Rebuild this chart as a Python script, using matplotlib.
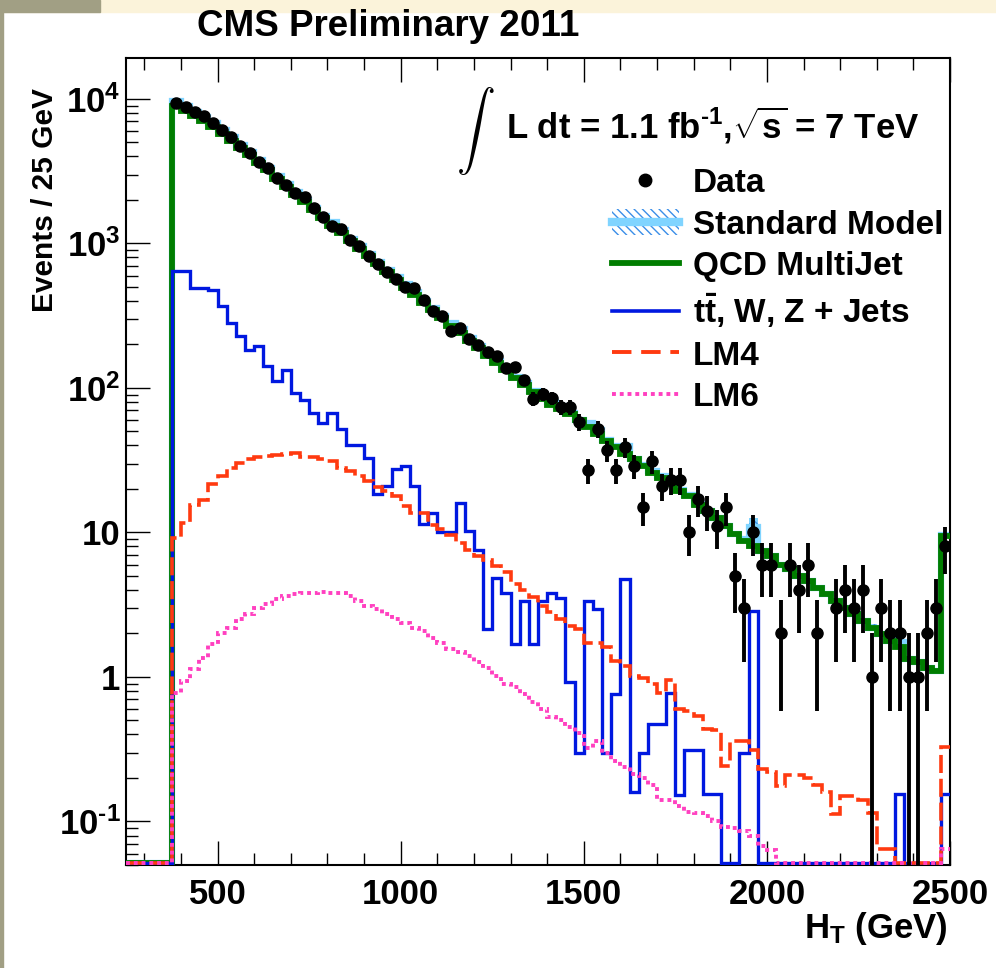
import numpy as np
import matplotlib
matplotlib.use("Agg")
import matplotlib.pyplot as plt
from matplotlib.lines import Line2D
from matplotlib.patches import Patch, Rectangle
from matplotlib.ticker import MultipleLocator, LogLocator, NullFormatter

plt.rcParams["font.family"] = ["Liberation Sans", "DejaVu Sans"]
plt.rcParams["font.weight"] = "bold"
plt.rcParams["mathtext.fontset"] = "custom"
plt.rcParams["mathtext.rm"] = "Liberation Sans:bold"
plt.rcParams["mathtext.bf"] = "Liberation Sans:bold"
plt.rcParams["mathtext.it"] = "Liberation Sans:bold"
plt.rcParams["mathtext.default"] = "bf"
plt.rcParams["hatch.linewidth"] = 1.0

# H_T binning: 25 GeV bins from 250 to 2500 GeV, first 5 bins (250-375) empty
ht_edges = np.arange(250, 2525, 25)
n_empty = 5

# Data counts per bin starting at 375 GeV
data_counts = [
    9430, 8850, 8170, 7630, 6800, 6110, 5490, 4750, 4250, 3690,
    3320, 2860, 2530, 2250, 2110, 1760, 1520, 1330, 1260, 1050,
    960, 813, 722, 637, 569, 500, 492, 408, 339, 317,
    246, 259, 219, 197, 176, 167, 137, 140, 113, 84,
    91, 85, 74, 74, 58, 27, 52, 37, 27, 39,
    29, 15, 31, 21, 23, 23, 10, 17, 14, 11,
    15, 5, 3, 10, 6, 6, 2, 6, 4, 6,
    2, 0, 3, 4, 3, 4, 1, 3, 2, 2,
    1, 1, 2, 3, 8,
]

# QCD multijet prediction
qcd = [
    9000, 8300, 7600, 7000, 6350, 5750, 5150, 4600, 4080, 3600,
    3200, 2800, 2460, 2180, 1930, 1700, 1500, 1330, 1180, 1040,
    920, 815, 720, 635, 560, 495, 438, 390, 345, 305,
    270, 240, 213, 188, 167, 149, 133, 118, 105, 94,
    84, 76, 71, 66, 60, 54, 48, 43, 39, 35,
    32, 29, 26, 24, 21.5, 19.5, 17.8, 15.5, 14.0, 12.5,
    11.1, 9.7, 8.7, 8.05, 7.4, 6.9, 6.0, 5.55, 5.0, 4.6,
    4.15, 3.73, 3.36, 3.02, 2.72, 2.44, 2.2, 1.98, 1.78, 1.6,
    1.33, 1.26, 1.16, 1.1, 9.45,
]

# ttbar, W, Z + jets
ewk = [
    641, 641, 492, 492, 474, 367, 282, 228, 184, 194,
    141, 111, 134, 92, 83, 67, 57, 67, 52, 40,
    40, 33, 18.4, 21, 27.3, 29, 21, 11.4, 13.7, 10,
    10, 16.1, 10.2, 7.6, 2.14, 4.87, 3.84, 1.69, 3.36, 1.69,
    3.36, 3.8, 3.54, 0.92, 0.30, 3.36, 2.94, 0.30, 0.76, 4.74,
    0.159, 0.30, 0.47, 0.47, 0.77, 0.153, 0.31, 0.31, 0.155, 0.155,
    0, 0, 0.30, 2.86, 0, 0, 0, 0, 0, 0,
    0, 0, 0, 0, 0, 0, 0, 0, 0, 0.155,
    0, 0, 0, 0, 0.155,
]

lm4 = [
    9.2, 11.6, 15.6, 16.9, 21.5, 24.5, 28, 30.3, 32, 33.2,
    33.7, 34.6, 35, 35.3, 33.2, 33.2, 32, 31.3, 28, 26.5,
    24.5, 22.6, 20.6, 19.3, 17.8, 15.2, 13.7, 13.6, 11.2, 10.6,
    9.55, 8.5, 7.6, 6.9, 6.4, 5.9, 5.3, 4.4, 4.0, 3.6,
    3.1, 2.8, 2.5, 2.25, 2.14, 1.73, 1.73, 1.6, 1.29, 1.19,
    1.02, 0.985, 0.89, 0.78, 0.95, 0.6, 0.58, 0.54, 0.435, 0.43,
    0.243, 0.36, 0.36, 0.31, 0.23, 0.22, 0.177, 0.21, 0.21, 0.2,
    0.18, 0.159, 0.113, 0.15, 0.15, 0.14, 0.115, 0.065, 0.065, 0,
    0, 0, 0, 0, 0.33,
]

lm6 = [
    0.78, 0.94, 1.13, 1.36, 1.69, 2.03, 2.2, 2.51, 2.72, 3.02,
    3.18, 3.45, 3.64, 3.73, 3.8, 3.84, 3.87, 3.84, 3.8, 3.64,
    3.36, 3.1, 2.94, 2.72, 2.51, 2.38, 2.2, 2.08, 1.87, 1.73,
    1.56, 1.48, 1.4, 1.26, 1.16, 1.02, 0.89, 0.85, 0.76, 0.67,
    0.6, 0.525, 0.5, 0.45, 0.41, 0.325, 0.36, 0.30, 0.263, 0.237,
    0.213, 0.2, 0.18, 0.14, 0.14, 0.128, 0.117, 0.115, 0.11, 0.10,
    0.091, 0.09, 0.086, 0.08, 0.068, 0.063, 0, 0, 0, 0,
    0, 0, 0, 0, 0, 0, 0, 0, 0, 0,
    0, 0, 0, 0, 0.065,
]

# relative uncertainty on the Standard Model sum
sm_rel_unc = [
    0.03, 0.03, 0.03, 0.03, 0.03, 0.03, 0.03, 0.03, 0.03, 0.03,
    0.03, 0.03, 0.03, 0.03, 0.03, 0.03, 0.03, 0.03, 0.03, 0.03,
    0.03, 0.03, 0.03, 0.03, 0.03, 0.03, 0.03, 0.03, 0.03, 0.03,
    0.03, 0.03, 0.03, 0.03, 0.03, 0.03, 0.03, 0.03, 0.03, 0.03,
    0.03, 0.03, 0.03, 0.03, 0.03, 0.03, 0.03, 0.03, 0.03, 0.03,
    0.03, 0.03, 0.03, 0.03, 0.03, 0.03, 0.03, 0.03, 0.03, 0.03,
    0.03, 0.03, 0.03, 0.16, 0.03, 0.03, 0.03, 0.03, 0.03, 0.03,
    0.03, 0.03, 0.03, 0.03, 0.03, 0.03, 0.05, 0.03, 0.03, 0.10,
    0.03, 0.03, 0.03, 0.03, 0.04,
]

c_green = "#007d00"
c_blue = "#0018e0"
c_red = "#ff3a10"
c_pink = "#ff40c0"
c_sm = "#80d4ff"
c_hatch = "#3a8ee8"

y_min, y_max = 0.05, 1.92e4
floor = 0.052


def full(vals):
    return np.concatenate([np.zeros(n_empty), np.asarray(vals, dtype=float)])


def drawable(vals):
    v = full(vals)
    return np.where(v > 0, v, floor)


fig = plt.figure(figsize=(9.96, 9.68), dpi=100)
fig.patch.set_facecolor("white")
# slide background bits
fig.patches.append(Rectangle((0, 1 - 12 / 968), 1, 12 / 968, transform=fig.transFigure,
                             color="#fbf3da", zorder=0))
fig.patches.append(Rectangle((0, 1 - 12 / 968), 100 / 996, 12 / 968, transform=fig.transFigure,
                             color="#a19f84", zorder=0))
fig.patches.append(Rectangle((0, 0), 3 / 996, 1, transform=fig.transFigure,
                             color="#a19f84", zorder=0))

ax = fig.add_axes([126 / 996, 103 / 968, 824 / 996, 807 / 968])
ax.set_yscale("log")

sm = full(qcd) + full(ewk)
unc = full(sm_rel_unc)
ax.fill_between(ht_edges, np.append(sm * (1 - unc), sm[-1]), np.append(sm * (1 + unc), sm[-1]),
                step="post", facecolor=c_sm, edgecolor=c_hatch, hatch="\\\\\\\\", lw=0, zorder=1)
ax.stairs(np.where(sm > 0, sm, floor), ht_edges, baseline=None, color=c_sm, lw=4.5, zorder=2)
ax.stairs(drawable(qcd), ht_edges, baseline=None, color=c_green, lw=4.2, zorder=3)
ax.stairs(drawable(ewk), ht_edges, baseline=None, color=c_blue, lw=2.4, zorder=4)
ax.stairs(drawable(lm4), ht_edges, baseline=None, color=c_red, lw=2.6,
          linestyle=(0, (5, 1.6)), zorder=4)
ax.stairs(drawable(lm6), ht_edges, baseline=None, color=c_pink, lw=2.8,
          linestyle=(0, (1.0, 1.0)), zorder=4)

n = full(data_counts)
centers = 0.5 * (ht_edges[:-1] + ht_edges[1:])
mask = n > 0
err = np.sqrt(n[mask])
err_lo = np.where(err >= n[mask], n[mask] * 0.9999, err)
ax.errorbar(centers[mask], n[mask], yerr=[err_lo, err], fmt="o", color="black",
            ms=8, elinewidth=2.8, capsize=0, zorder=6, clip_on=True)

ax.set_xlim(250, 2500)
ax.set_ylim(y_min, y_max)
ax.set_xticks([500, 1000, 1500, 2000, 2500])
ax.xaxis.set_minor_locator(MultipleLocator(100))
ax.set_yticks([0.1, 1, 10, 100, 1000, 10000],
              labels=["$10^{\u20101}$", "1", "10", r"$10^{2}$", r"$10^{3}$", r"$10^{4}$"])
ax.yaxis.set_minor_locator(LogLocator(base=10, subs=np.arange(2, 10)))
ax.yaxis.set_minor_formatter(NullFormatter())
ax.tick_params(which="both", direction="in", top=True, right=False, width=1.0)
ax.tick_params(which="major", length=17, labelsize=25)
ax.tick_params(axis="x", which="major", pad=9)
ax.tick_params(axis="y", which="major", pad=4)
ax.tick_params(which="minor", length=8.5)
for s in ax.spines.values():
    s.set_linewidth(1.5)

fig.text(197 / 996, 1 - 27 / 968, "CMS Preliminary 2011", fontsize=26.5, ha="left", va="center")
fig.text(45 / 996, 1 - 88 / 968, "Events / 25 GeV", fontsize=21.5, rotation=90, ha="center", va="top")
fig.text(948 / 996, 1 - 938 / 968, r"H$_{T}$ (GeV)", fontsize=25, ha="right", va="baseline")

fig.text(475 / 996, 1 - 131 / 968, r"$\int$", fontsize=28, ha="center", va="center",
         math_fontfamily="cm")
fig.text(506 / 996, 1 - 139 / 968, "L dt = 1.1 fb$^{\u20101}$,$\\sqrt{s}$ = 7 TeV",
         fontsize=25, ha="left", va="baseline")

handles = [
    Line2D([], [], ls="none", marker="o", color="black", ms=9),
    (Patch(facecolor="white", edgecolor=c_hatch, hatch="\\\\\\\\", lw=0),
     Line2D([], [], color=c_sm, lw=6)),
    Line2D([], [], color=c_green, lw=4.2),
    Line2D([], [], color=c_blue, lw=2.6),
    Line2D([], [], color=c_red, lw=2.8, linestyle=(0, (5, 2.5))),
    Line2D([], [], color=c_pink, lw=2.8, linestyle=(0, (1.0, 1.0))),
]
labels = ["Data", "Standard Model", "QCD MultiJet", r"$t\bar{t}$, W, Z + Jets", "LM4", "LM6"]
ax.legend(handles, labels, loc="upper left", bbox_to_anchor=(612 / 996, 1 - 168 / 968),
          bbox_transform=fig.transFigure, frameon=False, fontsize=24,
          handlelength=2.0, handleheight=0.8, handletextpad=0.42, labelspacing=0.3,
          borderpad=0, borderaxespad=0)

fig.savefig("out.png", dpi=100)
